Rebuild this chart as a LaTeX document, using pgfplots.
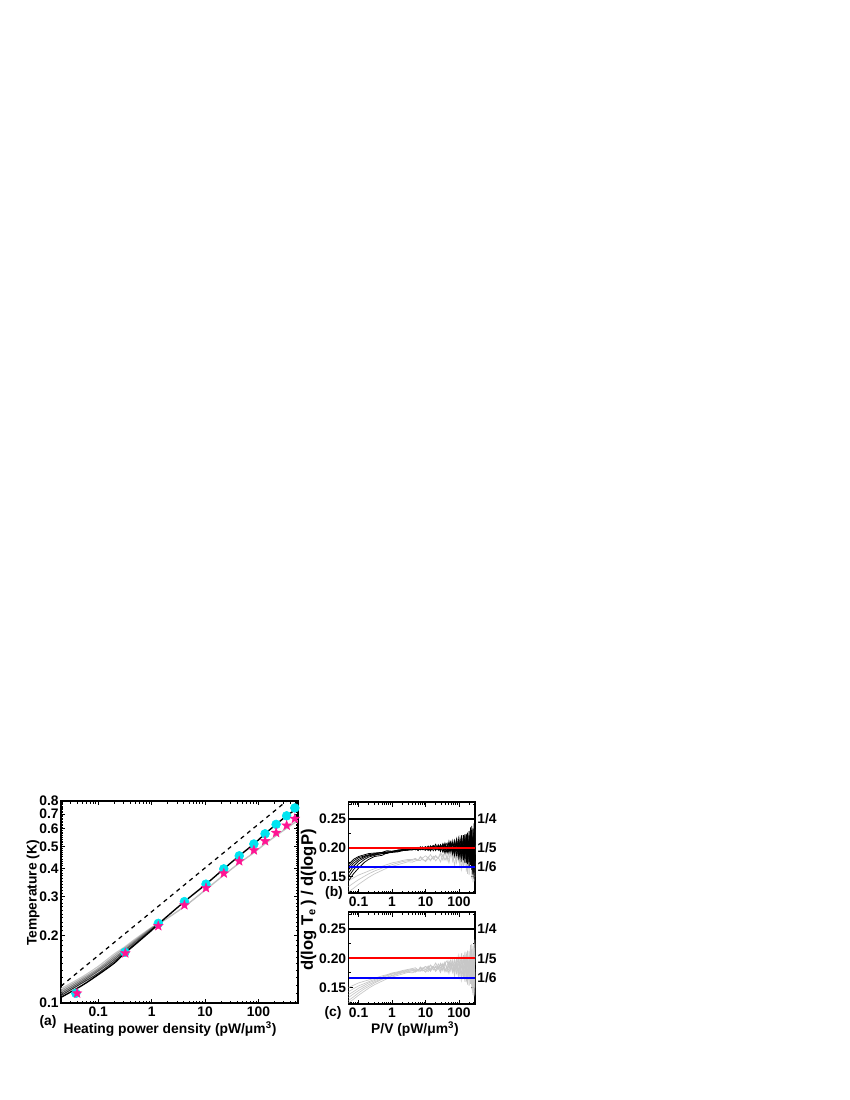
\documentclass[border=0pt]{standalone}
\usepackage{fontspec}
\setmainfont{Liberation Sans}
\usepackage{pgfplots}
\pgfplotsset{compat=1.18}
\usepackage{pgfplotstable}

\definecolor{cyanpt}{RGB}{0,228,240}
\definecolor{pinkpt}{RGB}{255,20,147}

% filled five-pointed star
\pgfdeclareplotmark{fstar}{%
  \pgfpathmoveto{\pgfpointpolar{90}{\pgfplotmarksize}}%
  \pgfpathlineto{\pgfpointpolar{126}{0.42\pgfplotmarksize}}%
  \pgfpathlineto{\pgfpointpolar{162}{\pgfplotmarksize}}%
  \pgfpathlineto{\pgfpointpolar{198}{0.42\pgfplotmarksize}}%
  \pgfpathlineto{\pgfpointpolar{234}{\pgfplotmarksize}}%
  \pgfpathlineto{\pgfpointpolar{270}{0.42\pgfplotmarksize}}%
  \pgfpathlineto{\pgfpointpolar{306}{\pgfplotmarksize}}%
  \pgfpathlineto{\pgfpointpolar{342}{0.42\pgfplotmarksize}}%
  \pgfpathlineto{\pgfpointpolar{18}{\pgfplotmarksize}}%
  \pgfpathlineto{\pgfpointpolar{54}{0.42\pgfplotmarksize}}%
  \pgfpathclose
  \pgfusepathqfillstroke
}

% (a): family of curves below P = 1.3
\pgfplotstableread{
x f2 f3 f4 f5 f6
0.02 .108 .110 .112 .114 .116
0.05 .123 .125 .127 .129 .131
0.1 .136 .139 .141 .143 .146
0.2 .154 .157 .160 .163 .166
0.3 .167 .170 .172 .175 .177
0.5 .185 .188 .190 .192 .194
1 .213 .214 .216 .217 .218
1.33 .226 .226 .226 .226 .226
}\tabA

% (b): d(log Te)/d(log P), black curves
\pgfplotstableread{
x c1 c2 c3 c4 c5 c6
0.05 .143 .150 .156 .162 .167 .171
0.07 .155 .162 .168 .173 .177 .180
0.1 .165 .172 .177 .180 .183 .185
0.15 .175 .180 .183 .185 .186 .188
0.2 .180 .184 .186 .187 .188 .190
0.3 .185 .187 .188 .189 .190 .191
0.5 .187 .190 .190 .192 .192 .192
0.7 .191 .190 .192 .192 .193 .195
1 .192 .194 .193 .194 .193 .194
1.5 .193 .194 .194 .195 .196 .196
2 .195 .195 .196 .196 .196 .197
3 .196 .196 .197 .197 .198 .198
4 .1996 .1968 .1986 .1962 .199 .1974
5 .197 .1988 .1998 .1984 .1964 .1992
6 .1989 .1953 .1959 .1998 .2007 .1974
7 .1963 .2011 .1996 .1978 .1987 .2017
8 .2008 .1981 .1966 .2017 .1972 .1975
10 .1982 .2022 .201 .1962 .2002 .1958
12 .203 .197 .1974 .2002 .1954 .2014
14 .1955 .2035 .202 .198 .201 .1945
17 .202 .195 .199 .204 .2035 .2025
20 .1952 .2018 .206 .1964 .1982 .2012
24 .2054 .1964 .1958 .2012 .203 .1976
28 .1979 .2056 .2028 .1937 .1958 .2049
33 .2048 .1984 .1928 .2056 .2072 .1936
38 .191 .2063 .2027 .1955 .1982 .2081
44 .202 .191 .208 .204 .193 .197
50 .2077 .2044 .1945 .1912 .211 .1956
57 .1928 .2108 .2024 .2072 .1952 .2096
65 .2117 .1909 .1883 .2039 .2078 .1922
74 .1944 .2028 .2098 .186 .193 .2126
84 .208 .1872 .1952 .2128 .2144 .1968
95 .1838 .2108 .2162 .1946 .1874 .2072
107 .216 .192 .188 .212 .204 .182
120 .1956 .222 .211 .1802 .1868 .2154
135 .2144 .1784 .1808 .2048 .2216 .188
150 .174 .213 .2234 .187 .1922 .2208
165 .2242 .1906 .1822 .2214 .213 .1738
180 .184 .226 .208 .172 .175 .211
200 .2089 .166 .1759 .2221 .2287 .1924
220 .1702 .2206 .235 .1882 .181 .2242
240 .238 .170 .182 .222 .21 .162
260 .171 .234 .2205 .1575 .153 .2115
280 .232 .172 .147 .242 .227 .157
300 .152 .217 .237 .167 .182 .247
}\tabB

% (c): grey curves
\pgfplotstableread{
x g1 g2 g3 g4 g5 g6
0.05 .124 .128 .133 .138 .143 .150
0.07 .130 .134 .139 .143 .148 .154
0.1 .137 .141 .145 .149 .153 .158
0.15 .144 .148 .151 .154 .157 .161
0.2 .149 .152 .155 .158 .160 .163
0.3 .155 .158 .160 .162 .164 .166
0.5 .161 .164 .165 .167 .168 .170
0.7 .165 .167 .168 .170 .171 .172
1 .168 .170 .171 .173 .174 .175
1.5 .171 .173 .174 .175 .176 .177
2 .173 .175 .176 .177 .178 .179
3 .176 .177 .178 .179 .180 .181
4 .1752 .179 .1784 .1816 .1798 .1826
5 .1774 .1764 .1802 .179 .1818 .1838
6 .1788 .1807 .1784 .1809 .1783 .1799
7 .1778 .1797 .1837 .1793 .1851 .1846
8 .1817 .1782 .1795 .1838 .1821 .1816
10 .1762 .1812 .1778 .1812 .1862 .186
12 .1812 .1774 .1844 .187 .182 .1834
14 .179 .183 .1775 .1795 .1885 .188
17 .185 .1855 .1855 .186 .180 .185
20 .1774 .1802 .1842 .1792 .1868 .192
24 .1832 .186 .1816 .1904 .1824 .1828
28 .1757 .1788 .1889 .1829 .1916 .1898
33 .1886 .1912 .1786 .1908 .1854 .1808
38 .1785 .1822 .1931 .177 .1933 .1907
44 .187 .177 .182 .188 .178 .196
50 .1742 .195 .1806 .1937 .1914 .1825
57 .1902 .1792 .1946 .1788 .1978 .1904
65 .1869 .1918 .1772 .1977 .1779 .1763
74 .169 .177 .1976 .1804 .1898 .1978
84 .1958 .1984 .1818 .194 .1742 .1832
95 .1776 .1714 .1922 .1698 .1978 .2042
107 .195 .188 .167 .202 .179 .176
120 .1632 .1708 .2004 .1816 .209 .199
135 .1878 .2056 .173 .2004 .1654 .1688
150 .17 .1762 .2058 .160 .200 .2114
165 .2044 .197 .1588 .2102 .1776 .1702
180 .155 .159 .196 .170 .213 .196
200 .2051 .2127 .1774 .1949 .153 .1639
220 .1712 .165 .2092 .1562 .2076 .223
240 .205 .194 .147 .224 .157 .170
260 .1405 .137 .1965 .157 .221 .2085
280 .225 .211 .142 .218 .159 .135
300 .150 .166 .232 .138 .204 .225
}\tabC

\pgfplotsset{
  every axis/.append style={
    scale only axis, tick pos=both, tick align=inside,
    axis line style={line width=1pt},
    major tick length=0.045in, minor tick length=0.025in,
    tick style={black, line width=0.7pt},
    tick label style={font=\fontsize{10}{12}\selectfont\bfseries},
    yticklabel style={inner xsep=1.5pt},
    xticklabel style={inner ysep=2.5pt},
  },
}
\tikzset{
  noisy/.style={line width=0.55pt, black},
  greyc/.style={line width=0.5pt, black!22},
}

\begin{document}
\begin{tikzpicture}
\path[use as bounding box] (0,0) rectangle (8.5in,-11in);

% ---------- (a) ----------
\begin{axis}[
  at={(0.61in,-10.03in)}, anchor=south west, width=2.37in, height=2.02in,
  xmode=log, ymode=log, xmin=0.02, xmax=550, ymin=0.1, ymax=0.8,
  xtick={0.1,1,10,100}, xticklabels={0.1,1,10,100},
  minor xtick={0.03,0.04,0.05,0.06,0.07,0.08,0.09,0.2,0.3,0.4,0.5,0.6,0.7,0.8,0.9,
    2,3,4,5,6,7,8,9,20,30,40,50,60,70,80,90,200,300,400,500},
  ytick={0.1,0.2,0.3,0.4,0.5,0.6,0.7,0.8},
  yticklabels={0.1,0.2,0.3,0.4,0.5,0.6,0.7,0.8},
  minor ytick={0.11,0.12,0.13,0.14,0.15,0.16,0.17,0.18,0.19,
    0.21,0.22,0.23,0.24,0.25,0.26,0.27,0.28,0.29,
    0.31,0.32,0.33,0.34,0.35,0.36,0.37,0.38,0.39,
    0.41,0.42,0.43,0.44,0.45,0.46,0.47,0.48,0.49,
    0.51,0.52,0.53,0.54,0.55,0.56,0.57,0.58,0.59,
    0.61,0.62,0.63,0.64,0.65,0.66,0.67,0.68,0.69,
    0.71,0.72,0.73,0.74,0.75,0.76,0.77,0.78,0.79},
]
\addplot[black!22, line width=0.8pt, smooth] table[x=x, y=f6] {\tabA};
\addplot[black!35, line width=0.8pt, smooth] table[x=x, y=f5] {\tabA};
\addplot[black!50, line width=0.8pt, smooth] table[x=x, y=f4] {\tabA};
\addplot[black!65, line width=0.8pt, smooth] table[x=x, y=f3] {\tabA};
\addplot[black!80, line width=0.8pt, smooth] table[x=x, y=f2] {\tabA};
\addplot[black!25, line width=1pt, smooth] coordinates {
  (1.33,0.225) (4.1,0.270) (10.4,0.322) (22.4,0.373) (43.6,0.422) (82,0.470)
  (133,0.515) (214,0.560) (337,0.605) (550,0.655)};
\addplot[black, line width=1pt, smooth] coordinates {
  (0.02,0.106) (0.05,0.120) (0.1,0.134) (0.2,0.151) (0.3,0.1655) (0.5,0.1835)
  (1,0.2115) (1.33,0.2255) (4.1,0.284) (10.4,0.340) (22.4,0.398) (43.6,0.455)
  (82,0.514) (133,0.571) (214,0.629) (337,0.687) (480,0.728) (550,0.742)};
\addplot[black, line width=0.9pt, dashed] coordinates {(0.02,0.119) (337,0.8) (550,0.88)};
\addplot[only marks, mark=*, mark size=3.2pt, mark options={fill=cyanpt, draw=cyanpt}] coordinates {
  (0.038,0.1105) (0.315,0.1686) (1.33,0.227) (4.1,0.284) (10.4,0.340) (22.4,0.398)
  (43.6,0.455) (82,0.514) (133,0.571) (214,0.629) (337,0.687) (480,0.745)};
\addplot[only marks, mark=fstar, mark size=3.6pt, mark options={fill=pinkpt, draw=pinkpt, line width=0.3pt}] coordinates {
  (0.04,0.1105) (0.32,0.167) (1.33,0.221) (4.1,0.274) (10.4,0.327) (22.4,0.380)
  (43.6,0.431) (82,0.482) (133,0.530) (214,0.577) (337,0.622) (480,0.667)};
\end{axis}

% ---------- (b) ----------
\begin{axis}[
  at={(3.485in,-8.93in)}, anchor=south west, width=1.265in, height=0.91in,
  xmode=log, xmin=0.05, xmax=300, ymin=0.122, ymax=0.279,
  xtick={0.1,1,10,100}, xticklabels={0.1,1,10,100},
  minor xtick={0.06,0.07,0.08,0.09,0.2,0.3,0.4,0.5,0.6,0.7,0.8,0.9,
    2,3,4,5,6,7,8,9,20,30,40,50,60,70,80,90,200},
  ytick={0.15,0.20,0.25}, yticklabels={0.15,0.20,0.25},
  minor ytick={0.125,0.175,0.225,0.275},
]
\addplot[greyc] table[x=x, y=g1] {\tabC};
\addplot[greyc] table[x=x, y=g3] {\tabC};
\addplot[greyc] table[x=x, y=g5] {\tabC};
\addplot[noisy] table[x=x, y=c1] {\tabB};
\addplot[noisy] table[x=x, y=c2] {\tabB};
\addplot[noisy] table[x=x, y=c3] {\tabB};
\addplot[noisy] table[x=x, y=c4] {\tabB};
\addplot[noisy] table[x=x, y=c5] {\tabB};
\addplot[noisy] table[x=x, y=c6] {\tabB};
\addplot[black, line width=1.5pt] coordinates {(0.05,0.25) (300,0.25)};
\addplot[red, line width=1.5pt] coordinates {(0.05,0.2) (300,0.2)};
\addplot[blue, line width=1.5pt] coordinates {(0.05,0.16667) (300,0.16667)};
\coordinate (b4) at (axis cs:300,0.25);
\coordinate (b5) at (axis cs:300,0.2);
\coordinate (b6) at (axis cs:300,0.16667);
\end{axis}

% ---------- (c) ----------
\begin{axis}[
  at={(3.485in,-10.04in)}, anchor=south west, width=1.265in, height=0.92in,
  xmode=log, xmin=0.05, xmax=300, ymin=0.122, ymax=0.279,
  xtick={0.1,1,10,100}, xticklabels={0.1,1,10,100},
  minor xtick={0.06,0.07,0.08,0.09,0.2,0.3,0.4,0.5,0.6,0.7,0.8,0.9,
    2,3,4,5,6,7,8,9,20,30,40,50,60,70,80,90,200},
  ytick={0.15,0.20,0.25}, yticklabels={0.15,0.20,0.25},
  minor ytick={0.125,0.175,0.225,0.275},
]
\addplot[greyc] table[x=x, y=g1] {\tabC};
\addplot[greyc] table[x=x, y=g2] {\tabC};
\addplot[greyc] table[x=x, y=g3] {\tabC};
\addplot[greyc] table[x=x, y=g4] {\tabC};
\addplot[greyc] table[x=x, y=g5] {\tabC};
\addplot[greyc] table[x=x, y=g6] {\tabC};
\addplot[black, line width=1.5pt] coordinates {(0.05,0.25) (300,0.25)};
\addplot[red, line width=1.5pt] coordinates {(0.05,0.2) (300,0.2)};
\addplot[blue, line width=1.5pt] coordinates {(0.05,0.16667) (300,0.16667)};
\coordinate (c4) at (axis cs:300,0.25);
\coordinate (c5) at (axis cs:300,0.2);
\coordinate (c6) at (axis cs:300,0.16667);
\end{axis}

\begin{scope}[every node/.style={font=\fontsize{10}{12}\selectfont\bfseries, inner sep=0pt}]
\node[anchor=west] at ([xshift=1.5pt]b4) {1/4};
\node[anchor=west] at ([xshift=1.5pt]b5) {1/5};
\node[anchor=west] at ([xshift=1.5pt]b6) {1/6};
\node[anchor=west] at ([xshift=1.5pt]c4) {1/4};
\node[anchor=west] at ([xshift=1.5pt]c5) {1/5};
\node[anchor=west] at ([xshift=1.5pt]c6) {1/6};
\node at (0.33in,-8.93in) [rotate=90] {Temperature (K)};
\node at (0.48in,-10.22in) {(a)};
\node at (1.70in,-10.29in) {Heating power density (pW/μm\textsuperscript{3})};
\node at (3.34in,-8.93in) {(b)};
\node at (3.33in,-10.13in) {(c)};
\node at (4.15in,-10.29in) {P/V (pW/μm\textsuperscript{3})};
\node at (3.085in,-9.00in) [rotate=90, font=\fontsize{12}{14}\selectfont\bfseries] {d(log T\textsubscript{e}\,) / d(logP)};
\end{scope}
\end{tikzpicture}
\end{document}
